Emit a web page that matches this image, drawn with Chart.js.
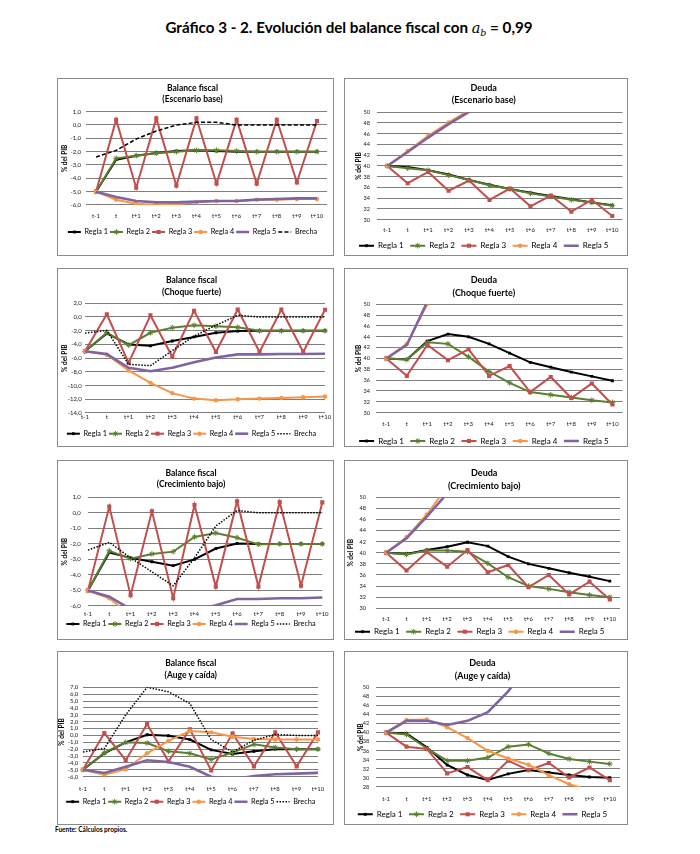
<!DOCTYPE html>
<html><head><meta charset="utf-8">
<script src="https://cdn.jsdelivr.net/npm/chart.js@4.4.1/dist/chart.umd.min.js"></script>
<style>
html,body{margin:0;padding:0;background:#fff;}
body{width:700px;height:854px;position:relative;overflow:hidden;font-family:Lato,'Open Sans',sans-serif;}
#title{position:absolute;left:0;top:18px;width:698px;text-align:center;font-weight:bold;font-size:15.2px;color:#000;white-space:nowrap;}
#title .m{font-family:'DejaVu Serif',serif;font-style:italic;font-weight:normal;font-size:14.5px;}
#title .m sub{font-size:9.5px;vertical-align:-3px;line-height:0;}
.box{position:absolute;border:1px solid #8a8a8a;box-sizing:border-box;background:#fff;}
.box canvas{position:absolute;left:0;top:0;}
#foot{position:absolute;left:55px;top:826px;font-weight:bold;font-size:6.5px;color:#000;}
</style></head><body>
<div id="title">Gráfico 3 - 2. Evolución del balance fiscal con <span class="m">a<sub>b</sub></span> = 0,99</div>
<div id="foot">Fuente: Cálculos propios.</div>
<script>
// ---------- DATA ----------
const categories = ['t-1','t','t+1','t+2','t+3','t+4','t+5','t+6','t+7','t+8','t+9','t+10'];
const seriesLabels = ['Regla 1','Regla 2','Regla 3','Regla 4','Regla 5','Brecha'];

// Y tick values
const ticksBalBase   = [-6,-5,-4,-3,-2,-1,0,1];
const ticksBalShock  = [-14,-12,-10,-8,-6,-4,-2,0,2];
const ticksBalLow    = [-6,-5,-4,-3,-2,-1,0,1];
const ticksBalBoom   = [-6,-5,-4,-3,-2,-1,0,1,2,3,4,5,6,7];
const ticksDebt      = [30,32,34,36,38,40,42,44,46,48,50];
const ticksDebtBoom  = [28,30,32,34,36,38,40,42,44,46,48,50];

// Balance fiscal - Escenario base
const balBase_r1  = [-5.0,-2.6,-2.3,-2.1,-1.95,-1.9,-1.95,-2.0,-2.0,-2.0,-2.0,-2.0];
const balBase_r2  = [-5.0,-2.5,-2.3,-2.1,-2.0,-1.9,-1.9,-1.95,-2.0,-2.0,-2.0,-2.0];
const balBase_r3  = [-5.0,0.4,-4.7,0.5,-4.55,0.5,-4.4,0.4,-4.4,0.4,-4.3,0.3];
const balBase_r4  = [-5.0,-5.6,-5.9,-6.0,-5.95,-5.8,-5.7,-5.7,-5.6,-5.6,-5.55,-5.55];
const balBase_r5  = [-5.0,-5.4,-5.7,-5.8,-5.8,-5.75,-5.7,-5.7,-5.6,-5.55,-5.5,-5.5];
const balBase_gap = [-2.4,-1.9,-1.05,-0.45,0.0,0.2,0.2,0.0,0.0,0.0,0.0,0.0];

// Deuda - Escenario base
const debtBase_r1 = [40,39.8,39.2,38.4,37.4,36.5,35.7,35.0,34.4,33.8,33.2,32.7];
const debtBase_r2 = [40,39.6,39.2,38.3,37.4,36.4,35.7,34.9,34.3,33.7,33.2,32.6];
const debtBase_r3 = [40,36.8,38.9,35.4,37.3,33.7,35.8,32.5,34.5,31.5,33.7,30.7];
const debtBase_r4 = [40,42.8,45.6,48.1,50.4,52.6,54.7,56.7,58.6,60.4,62.1,63.7];
const debtBase_r5 = [40,42.6,45.3,47.8,50.1,52.3,54.4,56.4,58.3,60.1,61.8,63.4];

// Balance fiscal - Choque fuerte
const balShock_r1  = [-5.0,-2.4,-4.0,-4.2,-3.5,-2.9,-2.3,-2.05,-2.0,-2.0,-2.0,-2.0];
const balShock_r2  = [-5.0,-2.3,-4.1,-2.3,-1.55,-1.2,-1.35,-1.5,-2.0,-2.0,-2.0,-2.0];
const balShock_r3  = [-5.0,0.4,-6.7,0.25,-5.8,0.9,-5.1,1.1,-5.1,1.1,-5.1,1.05];
const balShock_r4  = [-5.0,-5.5,-7.8,-9.6,-11.1,-11.9,-12.15,-12.0,-11.9,-11.8,-11.7,-11.6];
const balShock_r5  = [-5.0,-5.4,-7.4,-7.9,-7.4,-6.6,-5.9,-5.45,-5.45,-5.4,-5.4,-5.35];
const balShock_gap = [-2.35,-1.95,-6.9,-7.1,-4.9,-2.8,-1.2,0.25,0.0,0.0,0.0,0.0];

// Deuda - Choque fuerte
const debtShock_r1 = [40,39.8,43.2,44.5,44.0,42.7,41.0,39.3,38.4,37.5,36.7,35.9];
const debtShock_r2 = [40,39.8,43.0,42.7,40.3,37.6,35.5,33.8,33.3,32.8,32.3,31.9];
const debtShock_r3 = [40,36.8,42.5,39.7,41.7,36.8,38.6,33.8,36.6,32.7,35.4,31.5];
const debtShock_r4 = [40,42.7,50.1,57.3,63.9,69.8,75.1,80.0,84.4,88.5,92.2,95.6];
const debtShock_r5 = [40,42.5,50.5,57.8,64.4,70.4,75.8,80.7,85.2,89.3,93.0,96.4];

// Balance fiscal - Crecimiento bajo
const balLow_r1  = [-5.0,-2.55,-2.9,-3.15,-3.4,-3.0,-2.3,-1.97,-2.0,-2.0,-2.0,-2.0];
const balLow_r2  = [-5.0,-2.45,-2.95,-2.65,-2.5,-1.55,-1.3,-1.6,-2.03,-2.0,-2.0,-2.0];
const balLow_r3  = [-5.0,0.4,-5.3,0.1,-5.5,0.5,-4.75,0.75,-4.75,0.7,-4.7,0.67];
const balLow_r4  = [-5.0,-5.5,-6.6,-7.5,-8.3,-8.8,-9.0,-9.0,-8.9,-8.8,-8.7,-8.6];
const balLow_r5  = [-5.0,-5.4,-6.2,-6.8,-7.2,-6.3,-5.95,-5.55,-5.55,-5.5,-5.5,-5.45];
const balLow_gap = [-2.4,-1.9,-2.9,-3.8,-4.7,-2.9,-0.85,0.15,0.0,0.0,0.0,0.0];

// Deuda - Crecimiento bajo
const debtLow_r1 = [40,39.8,40.5,41.1,41.9,41.2,39.3,38.0,37.2,36.4,35.7,34.9];
const debtLow_r2 = [40,39.7,40.4,40.4,40.2,38.1,35.6,34.0,33.5,32.9,32.4,32.0];
const debtLow_r3 = [40,36.8,40.1,37.5,40.5,36.5,37.8,33.8,36.0,32.5,34.8,31.6];
const debtLow_r4 = [40,42.8,46.9,51.9,57.2,62.4,67.5,72.3,76.9,81.3,85.5,89.5];
const debtLow_r5 = [40,42.6,46.5,50.7,55.2,59.6,63.9,68.0,71.9,75.7,79.3,82.8];

// Balance fiscal - Auge y caída
const balBoom_r1  = [-5.0,-2.6,-1.0,0.1,-0.05,-0.6,-2.1,-2.7,-2.3,-2.0,-2.0,-2.0];
const balBoom_r2  = [-5.0,-2.5,-1.0,-1.1,-2.3,-2.6,-3.5,-2.5,-1.3,-1.75,-2.0,-2.0];
const balBoom_r3  = [-5.0,0.35,-3.6,1.65,-3.8,0.9,-5.1,0.3,-4.5,0.45,-4.5,0.45];
const balBoom_r4  = [-5.0,-5.7,-4.9,-2.6,-0.8,0.65,0.45,-0.2,-0.5,-0.6,-0.6,-0.6];
const balBoom_r5  = [-5.0,-5.45,-4.55,-3.6,-3.85,-4.55,-6.0,-6.4,-5.9,-5.65,-5.55,-5.45];
const balBoom_gap = [-2.4,-1.9,3.0,7.0,6.35,4.65,-0.6,-2.4,-0.7,0.15,0.0,0.0];

// Deuda - Auge y caída
const debtBoom_r1 = [40,39.8,36.75,32.85,30.65,29.55,30.9,31.75,31.2,30.65,30.2,30.05];
const debtBoom_r2 = [40,39.6,36.5,33.8,33.8,34.5,36.9,37.4,35.4,34.2,33.6,33.1];
const debtBoom_r3 = [40,36.9,36.4,31.0,32.4,29.5,33.8,31.7,33.3,30.1,32.3,29.5];
const debtBoom_r4 = [40,42.8,42.9,41.2,38.8,36.0,34.3,32.9,30.6,28.6,27.3,26.0];
const debtBoom_r5 = [40,42.6,42.6,41.7,42.6,44.5,49.1,55.0,60.6,65.9,71.0,75.8];

// ---------- STYLES ----------
const FONT = 'Lato';
Chart.defaults.font.family = FONT;
const styles = [
  {color:'#000000', width:2,   pointStyle:'rect',   radius:2.0, fill:'#000000'},
  {color:'#5b7f30', width:2,   pointStyle:'star',   radius:2.8, fill:'#5b7f30', pbw:1},
  {color:'#c0504d', width:2,   pointStyle:'rect',   radius:2.9, fill:'#c0504d'},
  {color:'#f79646', width:2,   pointStyle:'circle', radius:2.2, fill:'#f79646'},
  {color:'#8064a2', width:2.6, pointStyle:'circle', radius:0,   fill:'#8064a2'},
  {color:'#000000', width:1.5, pointStyle:'circle', radius:0,   fill:'#000000'}
];

const panels = [
  {box:[57,78,277,178], kind:'bal', title:['Balance fiscal','(Escenario base)'], ticks:ticksBalBase, offset:true, dash:[4,2.2],
   series:[balBase_r1,balBase_r2,balBase_r3,balBase_r4,balBase_r5,balBase_gap],
   g:{plotL:28,plotR:269,plotT:32.7,plotB:126,labelY:137,legendY:153,t1:9,t2:20,yTickRight:23,yTitleX:7}},
  {box:[344,78,284,178], kind:'debt', title:['Deuda','(Escenario base)'], ticks:ticksDebt, offset:true,
   series:[debtBase_r1,debtBase_r2,debtBase_r3,debtBase_r4,debtBase_r5],
   g:{plotL:32,plotR:277.5,plotT:33.3,plotB:140.7,labelY:151,legendY:166.7,t1:9,t2:21.5,yTickRight:25,yTitleX:14.3}},
  {box:[57,268,277,179], kind:'bal', title:['Balance fiscal','(Choque fuerte)'], ticks:ticksBalShock, offset:false, dash:[1.5,1.5],
   series:[balShock_r1,balShock_r2,balShock_r3,balShock_r4,balShock_r5,balShock_gap],
   g:{plotL:27,plotR:267,plotT:34.3,plotB:144,labelY:148.5,legendY:164.7,t1:11.3,t2:23,yTickRight:23.7,yTitleX:7}},
  {box:[344,268,284,179], kind:'debt', title:['Deuda','(Choque fuerte)'], ticks:ticksDebt, offset:true,
   series:[debtShock_r1,debtShock_r2,debtShock_r3,debtShock_r4,debtShock_r5],
   g:{plotL:31,plotR:277.7,plotT:35.3,plotB:143.7,labelY:154.7,legendY:172,t1:11.3,t2:23.7,yTickRight:25,yTitleX:14.3}},
  {box:[57,460,277,180], kind:'bal', title:['Balance fiscal','(Crecimiento bajo)'], ticks:ticksBalLow, offset:false, dash:[1.5,1.5],
   series:[balLow_r1,balLow_r2,balLow_r3,balLow_r4,balLow_r5,balLow_gap],
   g:{plotL:30,plotR:266,plotT:36.3,plotB:145,labelY:153,legendY:163,t1:12.3,t2:23.3,yTickRight:22.7,yTitleX:7}},
  {box:[344,460,284,180], kind:'debt', title:['Deuda','(Crecimiento bajo)'], ticks:ticksDebt, offset:true,
   series:[debtLow_r1,debtLow_r2,debtLow_r3,debtLow_r4,debtLow_r5],
   g:{plotL:31,plotR:275,plotT:36.3,plotB:147.3,labelY:158.3,legendY:170.7,t1:12.3,t2:24.7,yTickRight:21,yTitleX:5.7,legStart:10}},
  {box:[57,651,277,174], kind:'bal', title:['Balance fiscal','(Auge y caída)'], ticks:ticksBalBoom, offset:false, dash:[1.5,1.5],
   series:[balBoom_r1,balBoom_r2,balBoom_r3,balBoom_r4,balBoom_r5,balBoom_gap],
   g:{plotL:25,plotR:265.5,plotT:35.3,plotB:124.7,labelY:137,legendY:149.7,t1:11.3,t2:23,yTickRight:20.3,yTitleX:4.3}},
  {box:[344,651,284,174], kind:'debt', title:['Deuda','(Auge y caída)'], ticks:ticksDebtBoom, offset:true,
   series:[debtBoom_r1,debtBoom_r2,debtBoom_r3,debtBoom_r4,debtBoom_r5],
   g:{plotL:31,plotR:275,plotT:35.3,plotB:135,labelY:147,legendY:162.3,t1:11,t2:23.7,yTickRight:24.3,yTitleX:15.7}}
];

// draw a marker (legend)
function drawMarker(ctx, st, x, y) {
  if (!st.radius) return;
  const r = st.radius;
  ctx.save();
  ctx.fillStyle = st.fill; ctx.strokeStyle = st.color; ctx.lineWidth = st.pbw || 1;
  ctx.setLineDash([]);
  ctx.beginPath();
  if (st.pointStyle === 'rect') {
    const s = Math.SQRT1_2 * r;
    ctx.rect(x - s, y - s, 2*s, 2*s); ctx.fill();
  } else if (st.pointStyle === 'circle') {
    ctx.arc(x, y, r, 0, Math.PI*2); ctx.fill();
  } else if (st.pointStyle === 'star') {
    const d = r*Math.SQRT1_2;
    ctx.moveTo(x-r,y); ctx.lineTo(x+r,y); ctx.moveTo(x,y-r); ctx.lineTo(x,y+r);
    ctx.moveTo(x-d,y-d); ctx.lineTo(x+d,y+d); ctx.moveTo(x-d,y+d); ctx.lineTo(x+d,y-d);
    ctx.stroke();
  }
  ctx.restore();
}

const legendMarkers = {
  id:'legendMarkers',
  afterDraw(chart) {
    const lg = chart.legend; if (!lg || !lg.legendHitBoxes) return;
    const o = chart.options.plugins.legend.labels;
    const bw = o.pointStyleWidth, fs = o.font.size;
    lg.legendItems.forEach((it, i) => {
      const hb = lg.legendHitBoxes[i];
      drawMarker(chart.ctx, styles[it.datasetIndex], hb.left + bw/2, hb.top + fs/2);
    });
  }
};

function build(p) {
  const W = p.box[2]-2, H = p.box[3]-2;
  const div = document.createElement('div'); div.className = 'box';
  Object.assign(div.style, {left:p.box[0]+'px', top:p.box[1]+'px', width:p.box[2]+'px', height:p.box[3]+'px'});
  const cv = document.createElement('canvas');
  cv.width = W; cv.height = H; cv.style.width = W+'px'; cv.style.height = H+'px';
  div.appendChild(cv); document.body.appendChild(div);

  const g = p.g, bal = p.kind === 'bal';
  const tF = bal ? 8.5 : 9;
  const L = g.t2 - g.t1;
  const tPadTop = g.t1 - L/2;
  const tPadBot = g.plotT - tPadTop - 2*L;
  const legF = bal ? 7.3 : 8;
  const legP = bal ? 2 : 6.5;
  const legBox = bal ? 13 : 15;
  const legTop = g.legendY - legP - legF/2;
  const legNat = legF + legP + 10;
  const padB = Math.max(0, H - legTop - legNat);
  const legMaxH = H - legTop - padB;
  const xh = legTop - g.plotB;
  const xF = 6, xLH = 7.2;
  const xPad = g.labelY - g.plotB - xLH/2;
  const padL = g.legStart != null ? g.legStart - legP : 0;
  const yw = g.plotL - padL;
  const padR = W - g.plotR;
  const yTickPad = g.plotL - g.yTickRight;
  const yTF = 6.5, yTLH = 7.8;
  const yTitlePad = g.yTitleX - padL - yTLH/2;
  const tk = p.ticks;

  const datasets = p.series.map((d, i) => {
    const st = styles[i];
    return {
      label: seriesLabels[i], data: d,
      borderColor: st.color, backgroundColor: st.fill, borderWidth: st.width,
      borderDash: i === 5 ? p.dash : [],
      pointStyle: st.pointStyle, pointRadius: st.radius,
      pointBackgroundColor: st.fill, pointBorderColor: st.color, pointBorderWidth: st.pbw || 0,
      tension: 0, fill: false, order: 10 - i
    };
  });

  new Chart(cv, {
    type: 'line',
    data: {labels: categories, datasets},
    plugins: [legendMarkers],
    options: {
      responsive: false, animation: false, events: [],
      layout: {autoPadding: false, padding: {left: padL, right: padR, top: 0, bottom: padB}},
      plugins: {
        tooltip: {enabled: false},
        title: {display: true, text: p.title, color: '#000',
          font: {family: FONT, size: tF, weight: 'bold', lineHeight: L / tF},
          padding: {top: tPadTop, bottom: tPadBot}},
        legend: {display: true, position: 'bottom', align: g.legStart != null ? 'start' : 'center', maxHeight: legMaxH,
          labels: {usePointStyle: true, pointStyle: 'line', pointStyleWidth: legBox, boxHeight: legF, padding: legP,
            color: '#000', font: {family: FONT, size: legF},
            sort: (a, b) => a.datasetIndex - b.datasetIndex,
            generateLabels: (chart) => {
              const items = Chart.defaults.plugins.legend.labels.generateLabels(chart);
              items.forEach(it => {
                const ds = chart.data.datasets[it.datasetIndex];
                it.lineWidth = ds.borderWidth; it.strokeStyle = ds.borderColor;
                it.lineDash = ds.borderDash || []; it.pointStyle = 'line'; it.lineCap = 'butt';
              });
              return items;
            }}}
      },
      scales: {
        x: {type: 'category', offset: p.offset,
          grid: {display: false, drawTicks: false}, border: {display: false},
          ticks: {font: {size: xF}, color: '#222', padding: xPad, autoSkip: false, maxRotation: 0, minRotation: 0},
          afterFit: (s) => { s.height = xh; }},
        y: {type: 'linear', min: Math.min(...tk), max: Math.max(...tk),
          grid: {color: '#7f7f7f', lineWidth: 1.1, drawTicks: false}, border: {display: false},
          ticks: {stepSize: tk[1] - tk[0], autoSkip: false, maxTicksLimit: 50, padding: yTickPad,
            font: {size: bal ? 6 : 5.6}, color: '#222',
            callback: (v) => bal ? v.toFixed(1).replace('.', ',') : String(v)},
          title: {display: true, text: '% del PIB', color: '#000', font: {size: yTF, weight: 'bold', lineHeight: 1.2},
            padding: {top: yTitlePad, bottom: 0}},
          afterFit: (s) => { s.width = yw; }}
      }
    }
  });
}

panels.forEach(build);
</script>
</body></html>
